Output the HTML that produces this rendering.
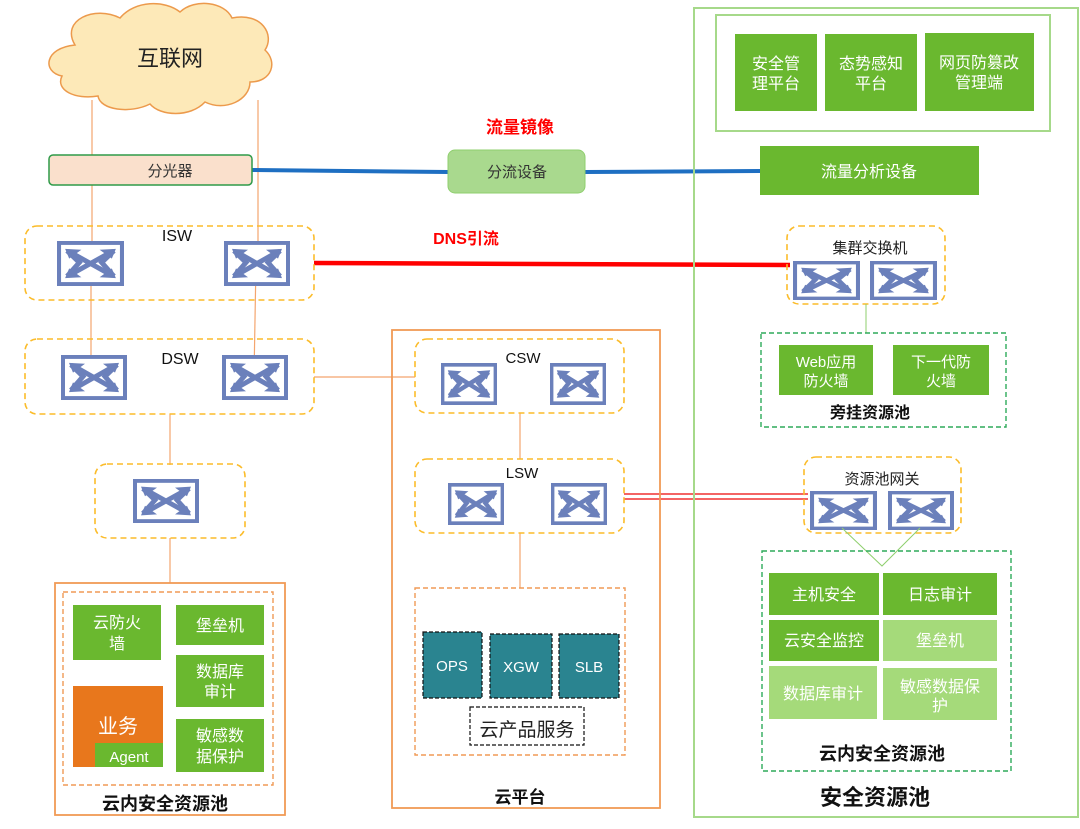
<!DOCTYPE html>
<html><head><meta charset="utf-8"><style>
html,body{margin:0;padding:0;background:#fff;}
svg{display:block;}
text{font-family:"Liberation Sans","Noto Sans CJK SC",sans-serif;}
</style></head><body>
<svg width="1080" height="829" viewBox="0 0 1080 829" xmlns="http://www.w3.org/2000/svg">
<defs>
<symbol id="sw" viewBox="0 0 66 46" preserveAspectRatio="none">
<rect x="0" y="0" width="66" height="46" fill="#6b80bb"/>
<rect x="4" y="4" width="58" height="38" fill="#fff"/>
<g stroke="#6b80bb" stroke-width="5" fill="none" stroke-linejoin="miter">
<line x1="14" y1="12" x2="52" y2="34"/>
<line x1="52" y1="12" x2="14" y2="34"/>
<polyline points="10,10 22,22 10,36"/>
<polyline points="56,10 44,22 56,36"/>
</g>
<g fill="#6b80bb">
<polygon points="8,8 24,9 12,18"/>
<polygon points="58,8 42,9 54,18"/>
<polygon points="8,38 24,37 12,28"/>
<polygon points="58,38 42,37 54,28"/>
</g>
</symbol>
</defs>

<!-- connectors orange -->
<g stroke="#f4a56e" stroke-width="1.2" fill="none">
<line x1="92" y1="100" x2="92" y2="262"/>
<line x1="258" y1="100" x2="258" y2="262"/>
<line x1="91" y1="262" x2="91" y2="377"/>
<line x1="256" y1="262" x2="254" y2="377"/>
<line x1="314" y1="377" x2="415" y2="377"/>
<line x1="170" y1="414" x2="170" y2="465"/>
<line x1="170" y1="538" x2="170" y2="583"/>
<line x1="520" y1="413" x2="520" y2="459"/>
<line x1="520" y1="533" x2="520" y2="588"/>
</g>

<!-- cloud -->
<path d="M75,45 C60,20 95,5 120,18 C135,0 165,0 180,12 C195,-2 225,2 232,18 C262,12 275,35 265,50 C278,62 272,82 250,82 C250,100 225,112 205,102 C190,118 160,116 150,104 C130,114 100,110 98,96 C75,100 55,90 62,76 C42,72 44,48 75,45 Z" fill="#fde9b8" stroke="#ec9a4c" stroke-width="1.5"/>
<text x="170" y="66" font-size="22" text-anchor="middle" fill="#222">互联网</text>

<!-- blue line -->
<line x1="252" y1="170" x2="448" y2="172" stroke="#1e6fc2" stroke-width="4"/>
<line x1="585" y1="172" x2="760" y2="171" stroke="#1e6fc2" stroke-width="4"/>
<rect x="49" y="155" width="203" height="30" rx="4" fill="#fae0cc" stroke="#2e9a48" stroke-width="1.5"/>
<text x="170" y="176" font-size="15" text-anchor="middle" fill="#333">分光器</text>
<rect x="448" y="150" width="137" height="43" rx="7" fill="#a9d98e" stroke="#8fcf6e" stroke-width="1"/>
<text x="517" y="177" font-size="15" text-anchor="middle" fill="#333">分流设备</text>
<text x="520" y="133" font-size="17" font-weight="bold" text-anchor="middle" fill="#f00">流量镜像</text>

<!-- red line -->
<line x1="314" y1="263" x2="790" y2="265" stroke="#f00" stroke-width="4.5"/>
<text x="466" y="244" font-size="16" font-weight="bold" text-anchor="middle" fill="#f00">DNS引流</text>

<!-- double red -->
<line x1="624" y1="494" x2="808" y2="494" stroke="#f03030" stroke-width="1.5"/>
<line x1="624" y1="499" x2="808" y2="499" stroke="#f03030" stroke-width="1.5"/>

<g fill="none" stroke="#fbbc2a" stroke-width="1.6" stroke-dasharray="6,4">
<rect x="25" y="226" width="289" height="74" rx="12"/>
<rect x="25" y="339" width="289" height="75" rx="12"/>
<rect x="95" y="464" width="150" height="74" rx="12"/>
<rect x="415" y="339" width="209" height="74" rx="12"/>
<rect x="415" y="459" width="209" height="74" rx="12"/>
<rect x="787" y="226" width="158" height="78" rx="12"/>
<rect x="804" y="457" width="157" height="76" rx="12"/>
</g>

<text x="177" y="241" font-size="16" text-anchor="middle" fill="#111">ISW</text>
<text x="180" y="364" font-size="16" text-anchor="middle" fill="#111">DSW</text>
<text x="523" y="363" font-size="15" text-anchor="middle" fill="#111">CSW</text>
<text x="522" y="478" font-size="15" text-anchor="middle" fill="#111">LSW</text>

<use href="#sw" x="57" y="241" width="67" height="45"/>
<use href="#sw" x="224" y="241" width="66" height="45"/>
<use href="#sw" x="61" y="355" width="66" height="45"/>
<use href="#sw" x="222" y="355" width="66" height="45"/>
<use href="#sw" x="133" y="479" width="66" height="44"/>
<use href="#sw" x="441" y="363" width="56" height="42"/>
<use href="#sw" x="550" y="363" width="56" height="42"/>
<use href="#sw" x="448" y="483" width="56" height="42"/>
<use href="#sw" x="551" y="483" width="56" height="42"/>
<use href="#sw" x="793" y="261" width="67" height="39"/>
<use href="#sw" x="870" y="261" width="67" height="39"/>
<use href="#sw" x="810" y="491" width="67" height="39"/>
<use href="#sw" x="888" y="491" width="66" height="39"/>

<!-- left pool -->
<rect x="55" y="583" width="230" height="232" fill="none" stroke="#f09a56" stroke-width="1.8"/>
<rect x="63" y="592" width="210" height="193" fill="none" stroke="#f09a56" stroke-width="1.4" stroke-dasharray="5,3"/>
<g fill="#6ab82f">
<rect x="73" y="605" width="88" height="55"/>
<rect x="176" y="605" width="88" height="40"/>
<rect x="176" y="655" width="88" height="52"/>
<rect x="176" y="719" width="88" height="53"/>
</g>
<rect x="73" y="686" width="90" height="81" fill="#e8771c"/>
<rect x="95" y="743" width="68" height="24" fill="#6ab82f"/>
<g fill="#fff" font-size="16" text-anchor="middle">
<text x="117" y="628">云防火</text><text x="117" y="649">墙</text>
<text x="220" y="631">堡垒机</text>
<text x="220" y="677">数据库</text><text x="220" y="697">审计</text>
<text x="220" y="741">敏感数</text><text x="220" y="762">据保护</text>
<text x="118" y="733" font-size="20">业务</text>
<text x="129" y="762" font-size="15">Agent</text>
</g>
<text x="165" y="810" font-size="18" font-weight="bold" text-anchor="middle" fill="#111">云内安全资源池</text>

<!-- cloud platform -->
<rect x="392" y="330" width="268" height="478" fill="none" stroke="#f09a56" stroke-width="1.8"/>
<rect x="415" y="588" width="210" height="167" fill="none" stroke="#f09a56" stroke-width="1.4" stroke-dasharray="5,3"/>
<g fill="#2a8490" stroke="#111" stroke-width="1.2" stroke-dasharray="4,2">
<rect x="423" y="632" width="59" height="66"/>
<rect x="490" y="634" width="62" height="64"/>
<rect x="559" y="634" width="60" height="64"/>
</g>
<g fill="#fff" font-size="15" text-anchor="middle">
<text x="452" y="671">OPS</text><text x="521" y="672">XGW</text><text x="589" y="672">SLB</text>
</g>
<rect x="470" y="707" width="114" height="38" fill="#fff" stroke="#111" stroke-width="1.2" stroke-dasharray="4,2"/>
<text x="527" y="736" font-size="19" text-anchor="middle" fill="#222">云产品服务</text>
<text x="520" y="803" font-size="17" font-weight="bold" text-anchor="middle" fill="#111">云平台</text>

<!-- right side -->
<rect x="694" y="8" width="384" height="809" fill="none" stroke="#a6d98a" stroke-width="2"/>
<rect x="716" y="15" width="334" height="116" fill="none" stroke="#a6d98a" stroke-width="2"/>
<g fill="#6ab82f">
<rect x="735" y="34" width="82" height="77"/>
<rect x="825" y="34" width="92" height="77"/>
<rect x="925" y="33" width="109" height="78"/>
<rect x="760" y="146" width="219" height="49"/>
<rect x="779" y="345" width="94" height="50"/>
<rect x="893" y="345" width="96" height="50"/>
<rect x="769" y="573" width="110" height="42"/>
<rect x="883" y="573" width="114" height="42"/>
<rect x="769" y="620" width="110" height="41"/>
</g>
<g fill="#a5da7a">
<rect x="883" y="620" width="114" height="41"/>
<rect x="769" y="666" width="108" height="53"/>
<rect x="883" y="668" width="114" height="52"/>
</g>
<g fill="#fff" font-size="16" text-anchor="middle">
<text x="776" y="69">安全管</text><text x="776" y="89">理平台</text>
<text x="871" y="69">态势感知</text><text x="871" y="89">平台</text>
<text x="979" y="68">网页防篡改</text><text x="979" y="88">管理端</text>
<text x="869" y="177">流量分析设备</text>
<text x="826" y="367" font-size="15">Web应用</text><text x="826" y="386" font-size="15">防火墙</text>
<text x="941" y="367" font-size="15">下一代防</text><text x="941" y="386" font-size="15">火墙</text>
<text x="824" y="600">主机安全</text><text x="940" y="600">日志审计</text>
<text x="824" y="646">云安全监控</text><text x="940" y="646">堡垒机</text>
<text x="823" y="699">数据库审计</text>
<text x="940" y="692">敏感数据保</text><text x="940" y="711">护</text>
</g>
<text x="870" y="253" font-size="15" text-anchor="middle" fill="#222">集群交换机</text>
<text x="882" y="484" font-size="15" text-anchor="middle" fill="#222">资源池网关</text>
<line x1="866" y1="304" x2="866" y2="333" stroke="#8fcf6e" stroke-width="1"/>
<polyline points="842,528 882,566 920,528" fill="none" stroke="#8fcf6e" stroke-width="1"/>
<g fill="none" stroke="#2eaa5a" stroke-width="1.4" stroke-dasharray="5,3">
<rect x="761" y="333" width="245" height="94"/>
<rect x="762" y="551" width="249" height="220"/>
</g>
<text x="870" y="418" font-size="16" font-weight="bold" text-anchor="middle" fill="#111">旁挂资源池</text>
<text x="882" y="760" font-size="18" font-weight="bold" text-anchor="middle" fill="#111">云内安全资源池</text>
<text x="875" y="805" font-size="22" font-weight="bold" text-anchor="middle" fill="#111">安全资源池</text>
</svg>
</body></html>
